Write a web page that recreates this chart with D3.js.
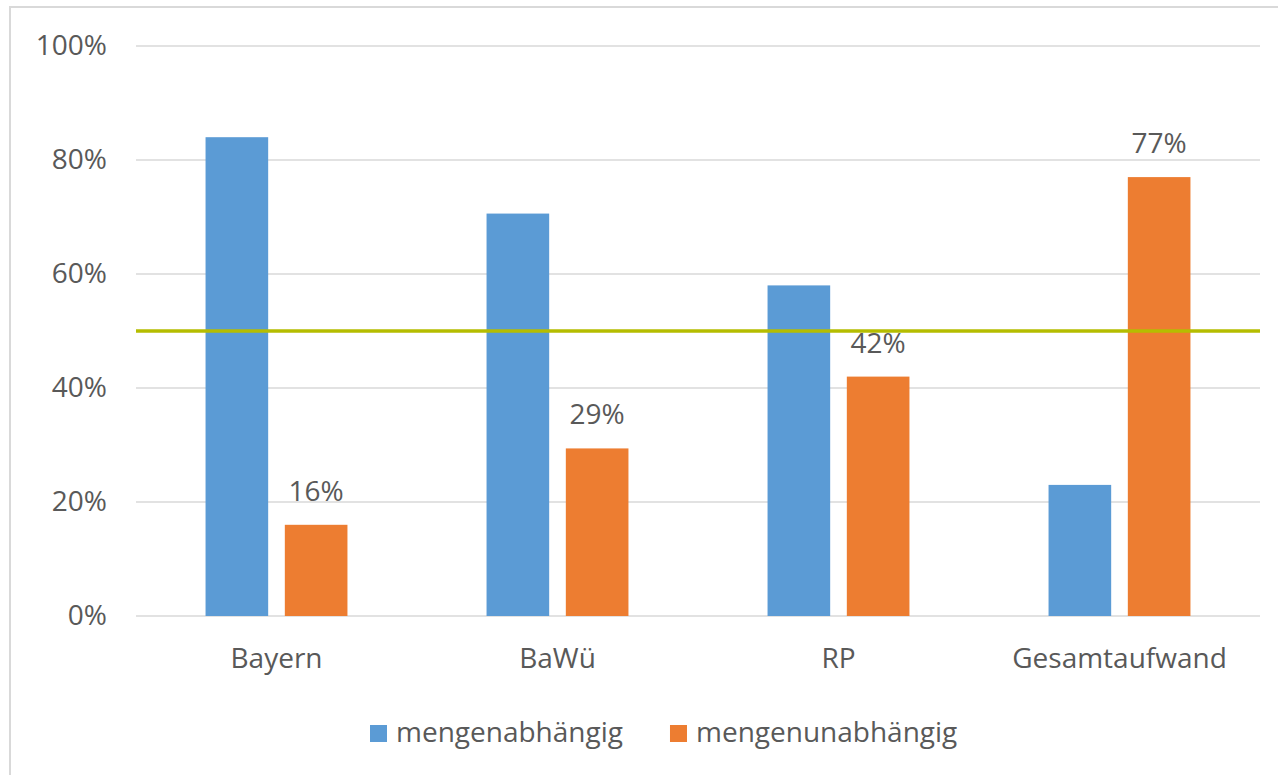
<!DOCTYPE html>
<html>
<head>
<meta charset="utf-8">
<script src="https://cdn.jsdelivr.net/npm/d3@7"></script>
<style>
  body { margin: 0; background: #fff; }
  svg text { font-family: "Open Sans", Lato, sans-serif; fill: #595959; }
</style>
</head>
<body>
<div id="container"></div>
<script>
// Chart data
const categories = ["Bayern", "BaWü", "RP", "Gesamtaufwand"];
const seriesNames = ["mengenabhängig", "mengenunabhängig"];
const mengenabhaengig = [0.84, 0.706, 0.58, 0.23];
const mengenunabhaengig = [0.16, 0.294, 0.42, 0.77];
const yTicks = [0, 0.2, 0.4, 0.6, 0.8, 1.0];
const threshold = 0.5;

const colors = ["#5B9BD5", "#ED7D31"];
const fontSize = "28px";

const W = 1278, H = 775;
const margin = { top: 46, right: 18, bottom: 158, left: 136 };
const width = W - margin.left - margin.right,
      height = H - margin.top - margin.bottom - 1;

const data = categories.map((c, i) => ({
    category: c,
    values: [mengenabhaengig[i], mengenunabhaengig[i]]
}));

const svg = d3.select("#container").append("svg")
    .attr("width", W)
    .attr("height", H);

// Chart border (only top and left edges are in the picture)
svg.append("rect")
    .attr("x", 10)
    .attr("y", 7)
    .attr("width", W + 20)
    .attr("height", H + 20)
    .attr("fill", "none")
    .attr("stroke", "#d9d9d9")
    .attr("stroke-width", 2);

const g = svg.append("g")
    .attr("transform", `translate(${margin.left},${margin.top})`);

// Scales
const x0 = d3.scaleBand()
    .domain(categories)
    .range([0, width])
    .paddingInner(0.495)
    .paddingOuter(0.2475);

const x1 = d3.scaleBand()
    .domain(seriesNames)
    .range([0, x0.bandwidth()])
    .paddingInner(0.21);

const y = d3.scaleLinear()
    .domain([0, 1])
    .range([height, 0]);

// Gridlines
g.append("g")
    .selectAll("line")
    .data(yTicks)
    .enter().append("line")
    .attr("x1", 0)
    .attr("x2", width)
    .attr("y1", d => y(d))
    .attr("y2", d => y(d))
    .attr("stroke", "#d9d9d9")
    .attr("stroke-width", 1.5);

// Y axis labels
const yAxis = g.append("g")
    .call(d3.axisLeft(y).tickValues(yTicks).tickFormat(d3.format(".0%")).tickSize(0).tickPadding(29));
yAxis.select(".domain").remove();
yAxis.selectAll("text")
    .style("font-size", fontSize)
    .attr("fill", "#595959")
    .style("font-family", "'Open Sans', sans-serif");

// Bars
const groups = g.selectAll(".group")
    .data(data)
    .enter().append("g")
    .attr("class", "group")
    .attr("transform", d => `translate(${x0(d.category)},0)`);

groups.selectAll("rect")
    .data(d => d.values.map((v, i) => ({ key: seriesNames[i], value: v, i: i })))
    .enter().append("rect")
    .attr("x", d => x1(d.key))
    .attr("y", d => y(d.value))
    .attr("width", x1.bandwidth())
    .attr("height", d => height - y(d.value))
    .attr("fill", d => colors[d.i]);

// Data labels for the second series
groups.append("text")
    .attr("x", () => x1(seriesNames[1]) + x1.bandwidth() / 2)
    .attr("y", d => y(d.values[1]) - 24)
    .attr("text-anchor", "middle")
    .style("font-size", fontSize)
    .text(d => d3.format(".0%")(d.values[1]));

// 50% line
g.append("line")
    .attr("x1", 0)
    .attr("x2", width)
    .attr("y1", y(threshold))
    .attr("y2", y(threshold))
    .attr("stroke", "#B5BD00")
    .attr("stroke-width", 3.5);

// X axis labels
const xAxis = g.append("g")
    .attr("transform", `translate(0,${height})`)
    .call(d3.axisBottom(x0).tickSize(0).tickPadding(32));
xAxis.select(".domain").remove();
xAxis.selectAll("text")
    .style("font-size", fontSize)
    .attr("fill", "#595959")
    .style("font-family", "'Open Sans', sans-serif");

// Legend
const legend = svg.append("g")
    .attr("transform", "translate(370,742)");
let lx = 0;
seriesNames.forEach((name, i) => {
    legend.append("rect")
        .attr("x", lx)
        .attr("y", -17)
        .attr("width", 17)
        .attr("height", 17)
        .attr("fill", colors[i]);
    const t = legend.append("text")
        .attr("x", lx + 26)
        .attr("y", 0)
        .style("font-size", fontSize)
        .text(name);
    lx += 26 + t.node().getComputedTextLength() + 47;
});
</script>
</body>
</html>
